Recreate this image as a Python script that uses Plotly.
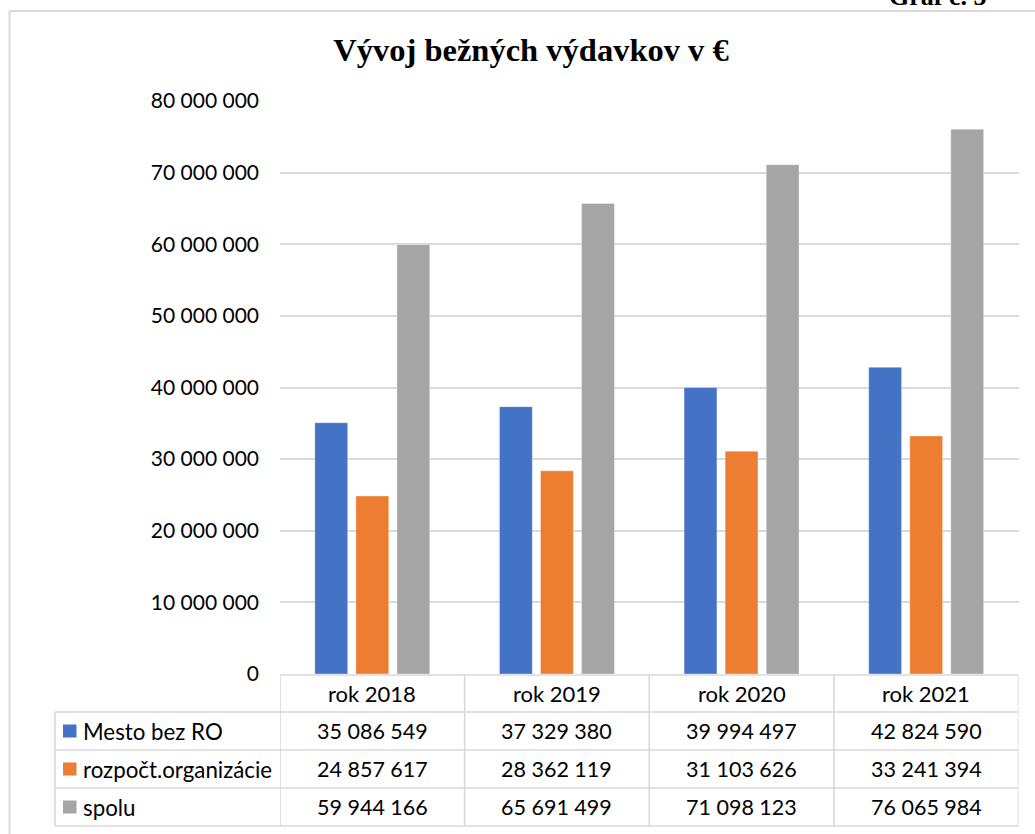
import plotly.graph_objects as go

categories = ["rok 2018", "rok 2019", "rok 2020", "rok 2021"]
series_names = ["Mesto bez RO", "rozpočt.organizácie", "spolu"]
mesto_bez_ro = [35086549, 37329380, 39994497, 42824590]
rozpoct_org = [24857617, 28362119, 31103626, 33241394]
spolu = [59944166, 65691499, 71098123, 76065984]
series_values = [mesto_bez_ro, rozpoct_org, spolu]
colors = ["#4472C4", "#ED7D31", "#A5A5A5"]
title_text = "Vývoj bežných výdavkov v €"
graf_label = "Graf č. 5"

W, H = 1035, 834


def py(y):
    return 1 - y / H


def px(x):
    return x / W


FONT = "Lato"
GRID = "#d9d9d9"

fig = go.Figure()
for name, vals, col in zip(series_names, series_values, colors):
    fig.add_trace(go.Bar(
        x=categories, y=vals, name=name,
        marker=dict(color=col, line=dict(color="rgba(255,255,255,0.35)", width=1)),
        showlegend=False, hoverinfo="skip",
    ))


def fmt(v):
    return f"{v:,}".replace(",", " ")


shapes = []
annotations = []
line = dict(color=GRID, width=1.6)

# frame
shapes.append(dict(type="line", xref="paper", yref="paper", x0=px(9.5), x1=1.05,
                   y0=py(11), y1=py(11), line=dict(color=GRID, width=2)))
shapes.append(dict(type="line", xref="paper", yref="paper", x0=px(9.5), x1=px(9.5),
                   y0=py(11), y1=-0.05, line=dict(color=GRID, width=2)))

# table geometry
y_top = 675
y_rows = [712, 750, 788, 826]
x_left = 55
shapes.append(dict(type="line", xref="x", yref="paper", x0=-0.5, x1=len(categories) - 0.5,
                   y0=py(y_top), y1=py(y_top), line=line))
for yy in y_rows:
    shapes.append(dict(type="line", xref="paper", yref="paper", x0=px(x_left), x1=px(1018.5),
                       y0=py(yy), y1=py(yy), line=line))
for i in range(len(categories) + 1):
    shapes.append(dict(type="line", xref="x", yref="paper", x0=i - 0.5, x1=i - 0.5,
                       y0=py(y_top), y1=py(y_rows[-1]), line=line))
shapes.append(dict(type="line", xref="paper", yref="paper", x0=px(x_left), x1=px(x_left),
                   y0=py(y_rows[0]), y1=py(y_rows[-1]), line=line))

tfont = dict(family=FONT, size=21.5, color="#000000")
hfont = dict(family=FONT, size=22, color="#000000")
lfont = dict(family=FONT, size=22.3, color="#000000")
for i, c in enumerate(categories):
    annotations.append(dict(text=c, x=c, xref="x", y=py((y_top + y_rows[0]) / 2), yref="paper",
                            showarrow=False, font=hfont, xanchor="center", yanchor="middle"))
for r, (name, vals, col) in enumerate(zip(series_names, series_values, colors)):
    yc = (y_rows[r] + y_rows[r + 1]) / 2
    shapes.append(dict(type="rect", xref="paper", yref="paper", x0=px(63), x1=px(76.5),
                       y0=py(yc + 6.5), y1=py(yc - 6.5), fillcolor=col, line=dict(width=0)))
    annotations.append(dict(text=name, x=px(81), xref="paper", y=py(yc), yref="paper",
                            showarrow=False, font=lfont, xanchor="left", yanchor="middle"))
    for c, v in zip(categories, vals):
        annotations.append(dict(text=fmt(v), x=c, xref="x", y=py(yc), yref="paper",
                                showarrow=False, font=tfont, xanchor="center", yanchor="middle"))

# label at the top right, cut by the page edge as in the original
annotations.append(dict(text=f"<b>{graf_label}</b>", x=px(988), xref="paper", y=py(-4), yref="paper",
                        showarrow=False, xanchor="right", yanchor="middle",
                        font=dict(family="Liberation Serif", size=26, color="#000000")))

fig.update_layout(
    width=W, height=H,
    margin=dict(l=0, r=0, t=0, b=0, autoexpand=False),
    paper_bgcolor="white", plot_bgcolor="white",
    separators=", ",
    hovermode=False,
    barmode="group", bargap=0.333, bargroupgap=0.2,
    title=dict(text=f"<b>{title_text}</b>", x=px(531), y=py(50), xanchor="center", yanchor="middle",
               xref="paper", yref="paper",
               font=dict(family="Liberation Serif", size=32.5, color="#000000")),
    xaxis=dict(domain=[px(280), px(1018.5)], showticklabels=False, showgrid=False,
               showline=False, zeroline=False, range=[-0.5, len(categories) - 0.5]),
    yaxis=dict(domain=[py(674), py(101)], range=[0, 80000000], dtick=10000000,
               tickformat=",d", showgrid=True, gridcolor=GRID, gridwidth=1.6,
               zeroline=False, showline=False, ticks="", ticklabelstandoff=20,
               automargin=False,
               tickfont=dict(family=FONT, size=21, color="#000000")),
    shapes=shapes, annotations=annotations,
)

fig.write_html(
    "out.html",
    config={"displayModeBar": False},
    post_script="document.body.style.margin='0';document.documentElement.style.overflow='hidden';document.body.style.overflow='hidden';",
)
